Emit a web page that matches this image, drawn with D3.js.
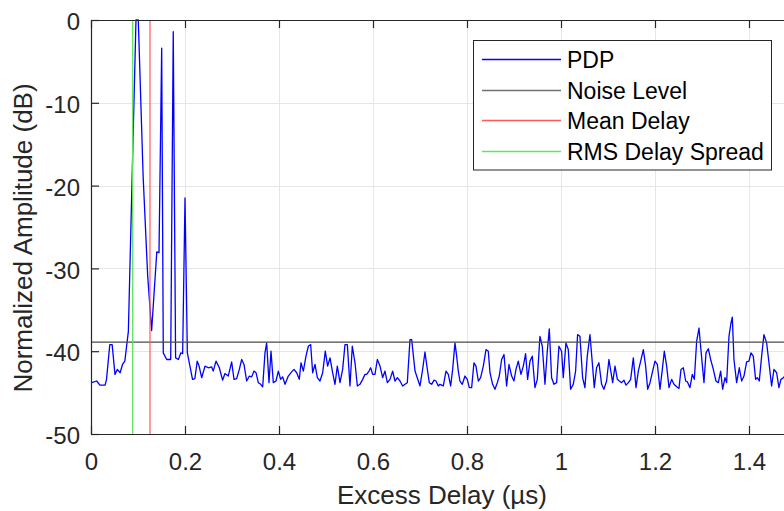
<!doctype html>
<html lang='en'>
  <head>
    <meta charset='utf-8' />
    <style>
      * { padding: 0; margin: 0; }
      body { background: #fff; overflow: hidden; }
      text { font-family: 'Liberation Sans', Arial, Helvetica, sans-serif; }
    </style>
    <title>PDP</title>
  </head>
  <body>
    <div id='container'></div>
    <script src='https://d3js.org/d3.v7.min.js'></script>
    <script type='text/javascript'>

      // excess delay of each traced point (us) and its normalized amplitude (dB)
      var delayUs = [0.0015,0.012,0.019,0.030,0.033,0.040,0.045,0.051,0.056,0.062,0.067,0.072,0.0795,0.0957,0.1006,0.111,0.1206,0.129,0.140,0.1447,
        0.1504,0.1538,0.161,0.1696,0.175,0.180,0.186,0.191,0.195,0.200,0.205,0.216,0.221,0.226,0.230,0.2355,0.2426,0.2496,0.2567,0.260,
        0.266,0.273,0.280,0.285,0.292,0.2993,0.3043,0.3100,0.3156,0.3206,0.3255,0.3312,0.3369,0.3419,0.3468,0.3511,0.3560,0.3610,0.3653,0.3702,
        0.3738,0.3787,0.3830,0.3879,0.3936,0.3986,0.4035,0.4078,0.4128,0.4198,0.4269,0.4319,0.4376,0.4432,0.4468,0.4518,0.4574,0.4624,0.4674,0.4716,
        0.4766,0.4816,0.4872,0.4929,0.4985,0.5035,0.5085,0.5141,0.5191,0.5241,0.5298,0.5354,0.5404,0.5454,0.5510,0.5560,0.5617,0.5667,0.5723,0.5780,
        0.5830,0.5865,0.5915,0.5950,0.5993,0.6042,0.6092,0.6149,0.6205,0.6255,0.6305,0.6362,0.6418,0.6468,0.6518,0.6574,0.6631,0.6681,0.6730,0.6787,
        0.6823,0.6894,0.7000,0.7056,0.7106,0.7156,0.7198,0.7248,0.7298,0.7340,0.7390,0.7425,0.7461,0.7496,0.7553,0.7602,0.7652,0.7695,0.7744,0.7780,
        0.7815,0.7850,0.7900,0.7957,0.8006,0.8049,0.8099,0.8148,0.8191,0.8241,0.8290,0.8347,0.8404,0.8453,0.8489,0.8545,0.8595,0.8645,0.8687,0.8737,
        0.8787,0.8843,0.8893,0.8950,0.8999,0.9042,0.9091,0.9148,0.9198,0.9247,0.9290,0.9340,0.9389,0.9446,0.9496,0.9552,0.9602,0.9659,0.9708,0.9751,
        0.9800,0.9850,0.9907,0.9956,1.0013,1.0048,1.0105,1.0155,1.0204,1.0261,1.0311,1.0353,1.0403,1.0460,1.0509,1.0559,1.0616,1.0672,1.0708,1.0757,
        1.0807,1.0864,1.0913,1.0970,1.1020,1.1099,1.1149,1.1199,1.1241,1.1291,1.1340,1.1383,1.1433,1.1482,1.1539,1.1596,1.1645,1.1695,1.1752,1.1801,
        1.1844,1.1894,1.1950,1.2000,1.2050,1.2106,1.2156,1.2198,1.2248,1.2298,1.2354,1.2404,1.2461,1.2510,1.2553,1.2603,1.2652,1.2688,1.2744,1.2794,
        1.2837,1.2886,1.2936,1.2993,1.3042,1.3085,1.3134,1.3184,1.3241,1.3297,1.3347,1.3397,1.3439,1.3489,1.3524,1.3574,1.3616,1.3645,1.3680,1.3737,
        1.3794,1.3843,1.3893,1.3950,1.3999,1.4042,1.4091,1.4141,1.4177,1.4219,1.4269,1.4318,1.4375,1.4425,1.4481,1.4531,1.4588,1.4637,1.4680,1.4730,
        1.4800];
      var pdpDb = [-43.8,-43.6,-44.1,-44.1,-43.4,-39.2,-39.2,-42.8,-42.2,-42.6,-41.6,-41.2,-37.6,0,0,-19,-30.9,-37.5,-28.0,-28.1,
        -3.4,-40.2,-41.0,-41.0,-1.4,-40.8,-41.0,-40.2,-40.3,-21.5,-40.2,-43.4,-43.3,-41.2,-41.8,-43.2,-41.8,-42.0,-41.9,-42.4,
        -41.2,-42.0,-43.5,-42.7,-43.0,-41.3,-43.4,-43.3,-42.2,-41.0,-41.6,-43.6,-43.0,-43.1,-42.4,-42.6,-43.8,-44.0,-44.3,-40.2,
        -39.0,-43.8,-40.0,-43.8,-43.6,-42.4,-43.4,-43.1,-44.0,-43.0,-42.5,-42.2,-42.6,-43.4,-41.4,-42.4,-40.6,-39.4,-39.2,-42.6,
        -41.6,-43.2,-43.6,-42.6,-40.0,-41.8,-40.8,-42.6,-44.0,-41.8,-43.8,-42.2,-39.2,-39.2,-44.2,-39.4,-41.4,-44.2,-44.0,-43.4,
        -42.8,-42.8,-42.4,-42.0,-42.8,-42.8,-41.0,-41.8,-43.2,-42.4,-43.8,-43.4,-42.4,-43.6,-43.2,-43.6,-44.2,-44.0,-43.8,-38.6,
        -38.6,-42.4,-44.2,-42.2,-40.1,-42.2,-43.8,-44.0,-43.5,-43.6,-44.2,-44.0,-44.1,-44.2,-42.4,-42.8,-44.2,-42.2,-39.0,-40.6,
        -42.4,-43.6,-44.0,-43.0,-43.4,-44.4,-44.4,-41.4,-41.8,-43.6,-43.2,-41.8,-39.8,-40.0,-42.6,-44.0,-44.6,-43.8,-43.0,-41.0,
        -40.4,-44.2,-41.6,-43.0,-43.6,-42.2,-41.2,-42.8,-41.8,-40.3,-43.4,-41.2,-40.6,-44.4,-43.4,-38.2,-39.4,-44.0,-40.0,-37.3,
        -43.2,-44.0,-43.8,-39.4,-40.0,-43.2,-39.0,-39.8,-44.6,-44.0,-42.4,-38.0,-38.2,-43.2,-44.4,-40.6,-38.0,-41.8,-44.4,-42.0,
        -41.4,-44.0,-44.6,-43.6,-41.0,-43.8,-41.8,-43.4,-43.6,-43.8,-43.5,-44.1,-43.8,-43.4,-40.8,-44.4,-42.4,-41.2,-39.8,-41.8,
        -44.6,-43.8,-42.4,-41.2,-41.6,-44.6,-42.2,-40.0,-41.8,-44.4,-43.4,-44.0,-44.3,-44.5,-42.2,-42.0,-43.6,-43.7,-44.4,-42.8,
        -43.4,-38.8,-37.2,-40.8,-43.8,-40.2,-39.7,-41.0,-42.2,-43.6,-43.8,-42.4,-44.6,-43.2,-43.8,-38.2,-36.6,-35.9,-41.0,-43.8,
        -42.0,-43.6,-43.0,-41.3,-41.2,-40.2,-40.6,-43.4,-43.2,-43.6,-40.6,-38.0,-39.0,-41.4,-44.2,-42.2,-42.6,-44.4,-43.4,-43.2,
        -42.8];

      var noiseLevelDb = -38.9;
      var meanDelayUs = 0.1255;
      var rmsDelayUs = 0.0887;

      var xTicks = [0, 0.2, 0.4, 0.6, 0.8, 1, 1.2, 1.4];
      var yTicks = [-50, -40, -30, -20, -10, 0];
      var legendLabels = ['PDP', 'Noise Level', 'Mean Delay', 'RMS Delay Spread'];
      var legendColors = ['#0000ff', '#707070', '#ff5a5a', '#5ee65e'];

      const svg_width = 784,
            svg_height = 511,
            plot_left = 91, plot_top = 20, plot_right = 796, plot_bottom = 434;

      var svg = d3.select('#container').append('svg')
          .attr('width', svg_width)
          .attr('height', svg_height)
          .style('display', 'block');

      svg.append('rect').attr('width', svg_width).attr('height', svg_height).attr('fill', '#fff');

      var x = d3.scaleLinear().domain([0, 1.5]).range([plot_left, plot_right]);
      var y = d3.scaleLinear().domain([-50, 0]).range([plot_bottom, plot_top]);

      svg.append('defs').append('clipPath').attr('id', 'plotclip')
        .append('rect').attr('x', plot_left).attr('y', plot_top - 1)
        .attr('width', plot_right - plot_left).attr('height', plot_bottom - plot_top + 1);

      // grid
      var grid = svg.append('g').attr('stroke', '#e6e6e6').attr('stroke-width', 1);
      grid.selectAll('.gx').data(xTicks.slice(1)).enter().append('line')
        .attr('x1', d => Math.round(x(d)) + 0.5).attr('x2', d => Math.round(x(d)) + 0.5)
        .attr('y1', plot_top).attr('y2', plot_bottom);
      grid.selectAll('.gy').data(yTicks.slice(1, -1)).enter().append('line')
        .attr('y1', d => Math.round(y(d)) + 0.5).attr('y2', d => Math.round(y(d)) + 0.5)
        .attr('x1', plot_left).attr('x2', plot_right);

      var plot = svg.append('g').attr('clip-path', 'url(#plotclip)');

      var line = d3.line()
        .x((d, i) => x(delayUs[i]))
        .y(d => y(d));

      plot.append('path')
        .datum(pdpDb)
        .attr('d', line)
        .attr('fill', 'none')
        .attr('stroke', legendColors[0])
        .attr('stroke-width', 1.3)
        .attr('stroke-linejoin', 'round');

      plot.append('line')
        .attr('x1', plot_left).attr('x2', plot_right)
        .attr('y1', y(noiseLevelDb)).attr('y2', y(noiseLevelDb))
        .attr('stroke', '#4a4a4a').attr('stroke-width', 1.2);

      plot.append('line')
        .attr('x1', x(meanDelayUs)).attr('x2', x(meanDelayUs))
        .attr('y1', y(-50)).attr('y2', y(0))
        .attr('stroke', legendColors[2]).attr('stroke-width', 1.2);

      plot.append('line')
        .attr('x1', x(rmsDelayUs)).attr('x2', x(rmsDelayUs))
        .attr('y1', y(-50)).attr('y2', y(0))
        .attr('stroke', legendColors[3]).attr('stroke-width', 1.3);

      // axes, ticks pointing inside like matlab
      var axisColor = '#262626';

      var xAxis = svg.append('g').attr('transform', 'translate(0,' + plot_bottom + ')')
        .call(d3.axisBottom(x).tickValues(xTicks).tickSize(-8).tickSizeOuter(0)
          .tickPadding(19).tickFormat(d => String(d)));

      var xTop = svg.append('g').attr('transform', 'translate(0,' + plot_top + ')')
        .call(d3.axisTop(x).tickValues(xTicks).tickSize(-8).tickSizeOuter(0).tickFormat(''));

      var yAxis = svg.append('g').attr('transform', 'translate(' + plot_left + ',0)')
        .call(d3.axisLeft(y).tickValues(yTicks).tickSize(-8).tickSizeOuter(0)
          .tickPadding(11).tickFormat(d => String(d)));

      [xAxis, xTop, yAxis].forEach(function(g) {
        g.select('.domain').attr('stroke', axisColor).attr('stroke-width', 1.2);
        g.selectAll('.tick line').attr('stroke', axisColor).attr('stroke-width', 1.2);
        g.selectAll('.tick text').attr('fill', axisColor)
          .style('font-family', "'Liberation Sans', Arial, sans-serif")
          .style('font-size', '24px');
      });
      yAxis.selectAll('.tick text').attr('dy', '0.4em');
      xAxis.selectAll('.tick text').attr('dy', '0.71em');

      svg.append('text')
        .attr('x', 442).attr('y', 504)
        .attr('text-anchor', 'middle')
        .attr('fill', axisColor)
        .style('font-size', '26px')
        .text('Excess Delay (\u00b5s)');

      svg.append('text')
        .attr('transform', 'translate(32,238) rotate(-90)')
        .attr('text-anchor', 'middle')
        .attr('fill', axisColor)
        .style('font-size', '26px')
        .text('Normalized Amplitude (dB)');

      // legend
      var lg = svg.append('g');
      lg.append('rect')
        .attr('x', 473.5).attr('y', 40.5).attr('width', 298).attr('height', 129.5)
        .attr('fill', '#fff').attr('stroke', axisColor).attr('stroke-width', 1);

      var rowY = [59.5, 90.5, 120.5, 151.5];
      var rows = lg.selectAll('.row').data(legendLabels).enter().append('g')
        .attr('transform', (d, i) => 'translate(0,' + rowY[i] + ')');
      rows.append('line')
        .attr('x1', 482).attr('x2', 561).attr('y1', 0).attr('y2', 0)
        .attr('stroke', (d, i) => legendColors[i]).attr('stroke-width', 1.4);
      rows.append('text')
        .attr('x', 567).attr('y', 0).attr('dy', '0.36em')
        .attr('fill', '#000')
        .style('font-size', '23px')
        .text(d => d);
    </script>
  </body>
</html>
